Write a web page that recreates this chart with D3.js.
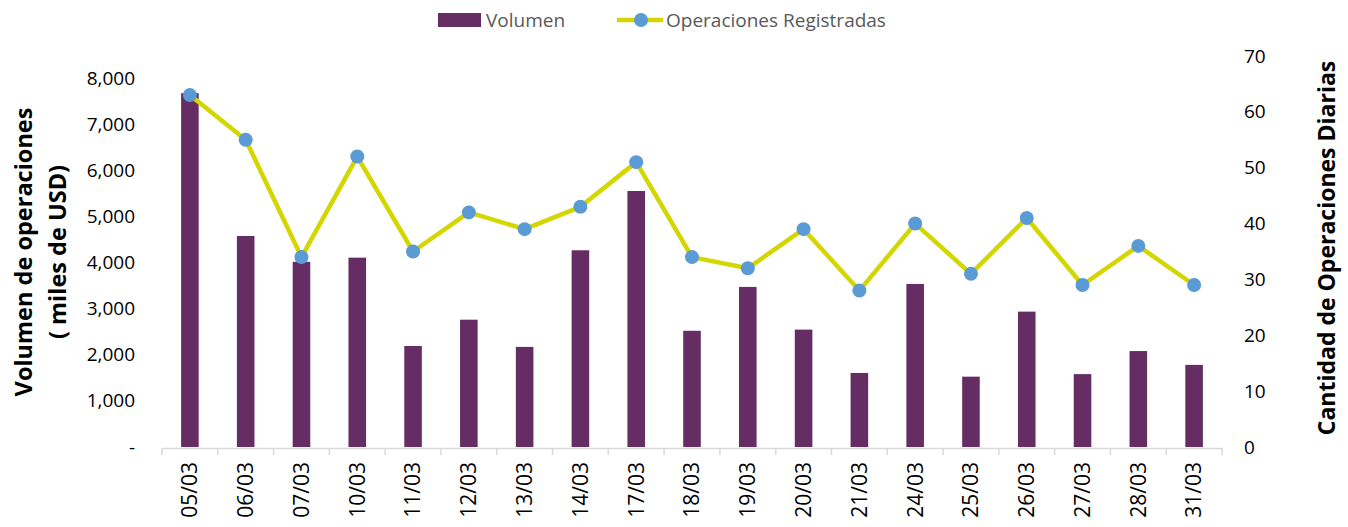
<!DOCTYPE html>
<html>
<head>
<meta charset="utf-8">
<script src="https://cdn.jsdelivr.net/npm/d3@7"></script>
<style>
  body { margin: 0; background: #fff; }
  svg text { font-family: "Open Sans", "Noto Sans", sans-serif; }
</style>
</head>
<body>
<div class="chart"></div>
<script>
/* datos */
const fechas = ["05/03","06/03","07/03","10/03","11/03","12/03","13/03","14/03","17/03","18/03",
                "19/03","20/03","21/03","24/03","25/03","26/03","27/03","28/03","31/03"];
const volumen = [7670, 4575, 4015, 4105, 2190, 2760, 2170, 4265, 5550, 2520,
                 3470, 2545, 1605, 3535, 1525, 2935, 1580, 2080, 1780];
const operaciones = [63, 55, 34, 52, 35, 42, 39, 43, 51, 34, 32, 39, 28, 40, 31, 41, 29, 36, 29];
const ticksVolumen = [0, 1000, 2000, 3000, 4000, 5000, 6000, 7000, 8000];
const ticksOperaciones = [0, 10, 20, 30, 40, 50, 60, 70];

const svg_width = 1348;
const svg_height = 527;
const colorBar = "#652d64";
const colorLine = "#d4d600";
const colorDot = "#5b9bd5";

const svg = d3.select(".chart").append("svg")
    .attr("width", svg_width)
    .attr("height", svg_height);

/* escalas */
const xScale = d3.scaleBand().domain(fechas).range([162, 1222]).padding(0);
const yLeft = d3.scaleLinear().domain([0, 8000]).range([447, 78]);
const yRight = d3.scaleLinear().domain([0, 70]).range([447, 56]);

/* barras */
const barW = xScale.bandwidth() * 0.315;
svg.append("g").attr("class", "bars")
    .selectAll("rect").data(volumen).join("rect")
    .attr("x", (d, i) => xScale(fechas[i]) + xScale.bandwidth() / 2 - barW / 2)
    .attr("y", d => yLeft(d))
    .attr("width", barW)
    .attr("height", d => yLeft(0) - yLeft(d))
    .attr("fill", colorBar);

/* eje x */
const xAxis = d3.axisBottom(xScale).tickSize(0).tickSizeOuter(0);
const xAxisG = svg.append("g").attr("class", "x axis")
    .attr("transform", "translate(0,448)")
    .call(xAxis);
xAxisG.select(".domain").attr("stroke", "#d9d9d9").attr("stroke-width", 1.5);
xAxisG.selectAll("text")
    .attr("transform", "rotate(-90)")
    .attr("x", -14).attr("y", 0).attr("dy", "0.35em")
    .attr("text-anchor", "end")
    .attr("font-size", "21px")
    .attr("fill", "#000");
const bounds = fechas.map(d => xScale(d)).concat([xScale.range()[1]]);
xAxisG.selectAll(".sep").data(bounds).join("line")
    .attr("class", "sep")
    .attr("x1", d => d).attr("x2", d => d)
    .attr("y1", 0).attr("y2", 7)
    .attr("stroke", "#d9d9d9").attr("stroke-width", 1.5);

/* eje y izquierdo */
const yAxisL = d3.axisLeft(yLeft).tickValues(ticksVolumen)
    .tickFormat(d => d === 0 ? "-" : d3.format(",")(d))
    .tickSize(0).tickPadding(0);
const yLG = svg.append("g").attr("class", "y axis left")
    .attr("transform", "translate(135,0)")
    .call(yAxisL);
yLG.select(".domain").remove();
yLG.selectAll("text").attr("font-size", "19px").attr("fill", "#000");

/* eje y derecho */
const yAxisR = d3.axisRight(yRight).tickValues(ticksOperaciones)
    .tickSize(0).tickPadding(0);
const yRG = svg.append("g").attr("class", "y axis right")
    .attr("transform", "translate(1244,0)")
    .call(yAxisR);
yRG.select(".domain").remove();
yRG.selectAll("text").attr("font-size", "19px").attr("fill", "#000");

/* linea */
const lineGen = d3.line()
    .x((d, i) => xScale(fechas[i]) + xScale.bandwidth() / 2)
    .y(d => yRight(d));
svg.append("path").datum(operaciones)
    .attr("d", lineGen)
    .attr("fill", "none")
    .attr("stroke", colorLine)
    .attr("stroke-width", 4.5)
    .attr("stroke-linejoin", "round");
svg.append("g").attr("class", "dots")
    .selectAll("circle").data(operaciones).join("circle")
    .attr("cx", (d, i) => xScale(fechas[i]) + xScale.bandwidth() / 2)
    .attr("cy", d => yRight(d))
    .attr("r", 7)
    .attr("fill", colorDot);

/* titulos de ejes */
const leftTitle = svg.append("text")
    .attr("transform", "translate(24,252) rotate(-90)")
    .attr("text-anchor", "middle")
    .attr("font-size", "23.5px").attr("font-weight", "bold").attr("fill", "#000");
leftTitle.append("tspan").attr("x", 0).attr("dy", "0.35em").text("Volumen de operaciones");
leftTitle.append("tspan").attr("x", 0).attr("dy", "1.45em").text("( miles de USD)");

svg.append("text")
    .attr("transform", "translate(1327,248) rotate(-90)")
    .attr("text-anchor", "middle").attr("dy", "0.35em")
    .attr("font-size", "23px").attr("font-weight", "bold").attr("fill", "#000")
    .text("Cantidad de Operaciones Diarias");

/* leyenda */
const legend = svg.append("g").attr("class", "legend");
legend.append("rect")
    .attr("x", 438).attr("y", 13).attr("width", 43).attr("height", 14)
    .attr("fill", colorBar);
legend.append("text")
    .attr("x", 486).attr("y", 20).attr("dy", "0.35em")
    .attr("font-size", "19px").attr("fill", "#595959")
    .text("Volumen");
legend.append("line")
    .attr("x1", 617).attr("x2", 663).attr("y1", 20).attr("y2", 20)
    .attr("stroke", colorLine).attr("stroke-width", 4.5);
legend.append("circle")
    .attr("cx", 641).attr("cy", 20).attr("r", 7).attr("fill", colorDot);
legend.append("text")
    .attr("x", 666).attr("y", 20).attr("dy", "0.35em")
    .attr("font-size", "19px").attr("fill", "#595959")
    .text("Operaciones Registradas");
</script>
</body>
</html>
